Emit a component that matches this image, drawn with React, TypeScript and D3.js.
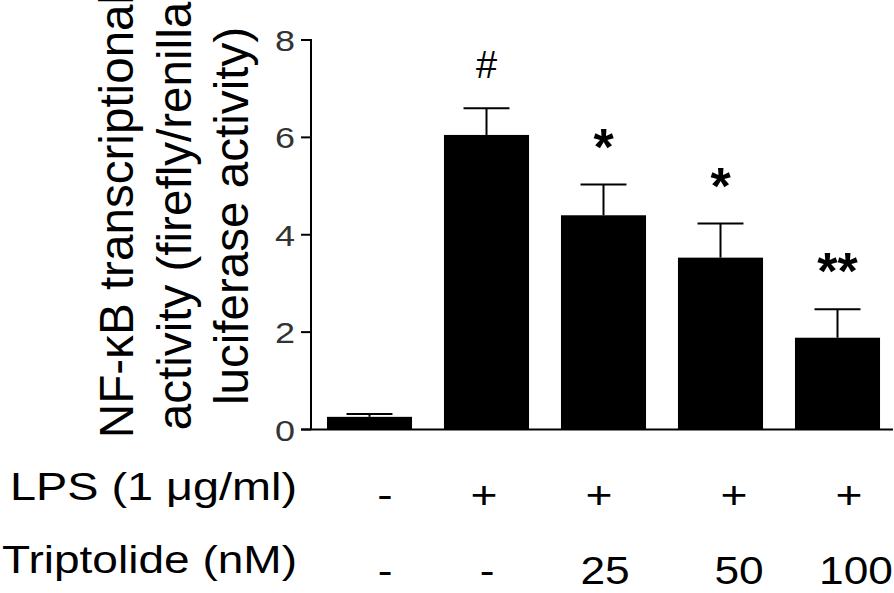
import React from "react";
import * as d3 from "d3";

// ---- data ----
const groups = ["Control", "LPS", "LPS+TP25", "LPS+TP50", "LPS+TP100"];
const means = [0.26, 6.05, 4.4, 3.53, 1.885];
const sems = [0.06, 0.55, 0.63, 0.7, 0.585];
const marks = ["", "#", "*", "*", "**"];
const lpsRow = ["-", "+", "+", "+", "+"];
const tpRow = ["-", "-", "25", "50", "100"];
const yTicks = [0, 2, 4, 6, 8];
const titleLines = ["NF-κB transcriptional", "activity (firefly/renilla", "luciferase activity)"];

// ---- layout ----
const W = 894;
const H = 593;
const axisX = 311;
const y0 = 429.5;
const yTop = 40;
const xEnd = 893;
const FONT = "'Liberation Sans', Arial, Helvetica, sans-serif";
const lpsLabelX = [385, 484, 599, 734, 849];
const tpLabelX = [385, 487, 605, 739, 856];

export default function App() {
  const x = d3
    .scaleBand<string>()
    .domain(groups)
    .range([axisX, axisX + 585])
    .paddingInner(0.273)
    .paddingOuter(0.1365);
  const y = d3.scaleLinear().domain([0, 8]).range([y0, yTop]);
  const bw = x.bandwidth();
  const capW = bw * 0.54;

  return (
    <svg
      width={W}
      height={H}
      style={{ position: "absolute", left: 0, top: 0, background: "#fff" }}
      fontFamily={FONT}
    >
      <rect width={W} height={H} fill="#fff" />
      {/* y axis title */}
      {titleLines.map((t, i) => (
        <text
          key={t}
          transform={`translate(${133 + i * 57.5},216) rotate(-90)`}
          textAnchor="middle"
          fontSize={47.6}
          fill="#000"
        >
          {t}
        </text>
      ))}
      {/* y axis */}
      <line x1={axisX} x2={axisX} y1={y(8) - 1} y2={y0} stroke="#000" strokeWidth={2} />
      {yTicks.map((t) => (
        <g key={t}>
          <line x1={axisX - 10} x2={axisX} y1={y(t)} y2={y(t)} stroke="#000" strokeWidth={2} />
          <text
            transform={`translate(295,${y(t) + 11}) scale(1.2,1)`}
            textAnchor="end"
            fontSize={30}
            fill="#333"
          >
            {t}
          </text>
        </g>
      ))}
      {/* x axis */}
      <line x1={axisX - 10} x2={xEnd} y1={y0} y2={y0} stroke="#000" strokeWidth={2} />
      {/* bars */}
      {groups.map((g, i) => {
        const cx = (x(g) as number) + bw / 2;
        const top = y(means[i]);
        const et = y(means[i] + sems[i]);
        return (
          <g key={g}>
            <line x1={cx} x2={cx} y1={et} y2={top} stroke="#000" strokeWidth={2} />
            <line x1={cx - capW / 2} x2={cx + capW / 2} y1={et} y2={et} stroke="#000" strokeWidth={2} />
            <rect x={x(g)} y={top} width={bw} height={y0 - top} fill="#000" />
            {marks[i] === "#" && (
              <text x={cx} y={et - 30} textAnchor="middle" fontSize={38} fill="#000">
                #
              </text>
            )}
            {marks[i].startsWith("*") && (
              <text x={cx} y={et - 20} textAnchor="middle" fontSize={52} fontWeight="bold" fill="#000">
                {marks[i]}
              </text>
            )}
          </g>
        );
      })}
      {/* condition rows */}
      <text x={10} y={500} fontSize={38.5} textLength={287} lengthAdjust="spacingAndGlyphs" fill="#000">
        LPS (1 μg/ml)
      </text>
      <text x={2} y={573} fontSize={38.5} textLength={295} lengthAdjust="spacingAndGlyphs" fill="#000">
        Triptolide (nM)
      </text>
      {lpsRow.map((s, i) => (
        <text
          key={"l" + i}
          transform={`translate(${lpsLabelX[i]},508) scale(1.2,1)`}
          textAnchor="middle"
          fontSize={38.5}
          fill="#000"
        >
          {s}
        </text>
      ))}
      {tpRow.map((s, i) => (
        <text
          key={"t" + i}
          transform={`translate(${tpLabelX[i]},584) scale(1.15,1)`}
          textAnchor="middle"
          fontSize={38.5}
          fill="#000"
        >
          {s}
        </text>
      ))}
    </svg>
  );
}
